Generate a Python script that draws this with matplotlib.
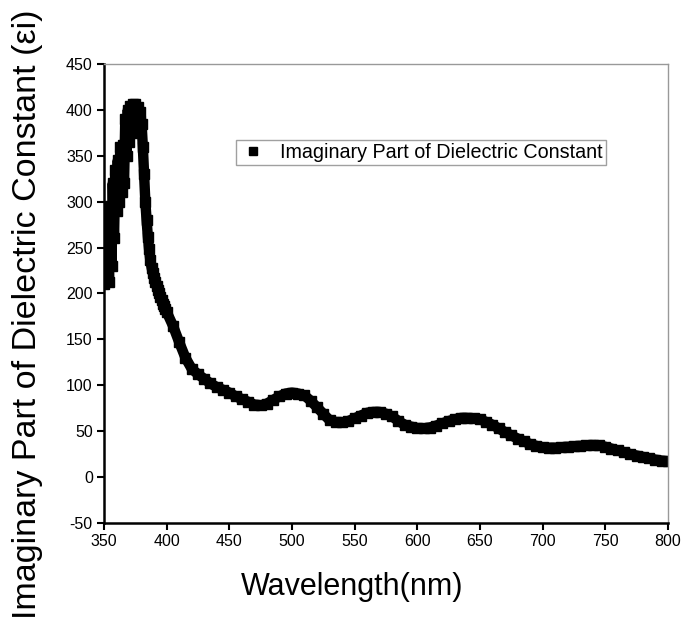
import numpy as np
import matplotlib
matplotlib.use('Agg')
import matplotlib.pyplot as plt

# wavelength (nm): 1 nm steps over the noisy peak, 5 nm steps after
wl_peak = np.arange(350, 400)
eps_peak = [210, 280, 215, 285, 212, 295, 230, 320, 260, 335,
            290, 345, 300, 360, 310, 362, 320, 390, 350, 400,
            365, 404, 375, 406, 380, 406, 388, 403, 392, 398,
            385, 360, 330, 300, 280, 262, 248, 236, 228, 222,
            217, 213, 208, 204, 200, 196, 193, 189, 186, 183]

wl_tail = np.arange(400, 805, 5)
eps_tail = [180, 165, 147, 130, 118, 112, 107, 102, 98, 95,
            92, 88, 85, 82, 79, 78, 80, 84, 88, 91,
            92, 91, 89, 83, 76, 69, 62, 60, 59.5, 61,
            64, 67, 70, 71, 71, 69, 66, 61, 57, 55,
            53.5, 53, 54, 56, 58.5, 61, 63, 64.5, 64.5, 64,
            63, 60, 57, 53, 49, 45.5, 42, 39, 36, 34,
            32.5, 32, 32, 32.5, 33, 33.5, 34, 34.5, 35, 34.5,
            33, 31, 29, 27, 25, 23.5, 22, 20.5, 19, 18,
            17]

wavelength = np.concatenate([wl_peak, wl_tail])
eps_imag = np.concatenate([eps_peak, eps_tail])

plt.rcParams['font.family'] = ['Liberation Sans', 'DejaVu Sans']
plt.rcParams['axes.unicode_minus'] = False

fig = plt.figure(figsize=(6.85, 6.27), dpi=100)
ax = fig.add_axes([0.1518, 0.1659, 0.8232, 0.7321])

ax.plot(wavelength, eps_imag, color='black', lw=7.5, solid_capstyle='butt')
ax.plot(wavelength, eps_imag, 's', color='black', ms=7, ls='none',
        label='Imaginary Part of Dielectric Constant')

ax.set_xlim(350, 800)
ax.set_ylim(-50, 450)
ax.set_xticks(np.arange(350, 801, 50))
ax.set_yticks(np.arange(-50, 451, 50))
ax.tick_params(direction='out', length=5, width=1.5, labelsize=11.5,
               top=False, right=False, pad=3)

for side in ['left', 'bottom']:
    ax.spines[side].set_linewidth(1.8)
    ax.spines[side].set_color('black')
for side in ['top', 'right']:
    ax.spines[side].set_linewidth(1.0)
    ax.spines[side].set_color('#999999')

leg = ax.legend(loc='upper left', bbox_to_anchor=(0.216, 0.855), fontsize=14.2,
                frameon=True, fancybox=False, handletextpad=0.6,
                borderpad=0.15, markerscale=0.9, handlelength=1.5,
                numpoints=1)
leg.get_frame().set_edgecolor('#888888')
leg.get_frame().set_linewidth(1.0)
# only the marker in the legend handle
leg.legend_handles[0].set_linestyle('none')

fig.text(351.7 / 685, 1 - 586.7 / 627, 'Wavelength(nm)', fontsize=22,
         ha='center', va='center')
fig.text(28 / 685, 1 - 314 / 627, 'Imaginary Part of Dielectric Constant (\u03b5i)',
         fontsize=24.5, rotation=90, ha='center', va='center')

fig.savefig('out.png', dpi=100)
